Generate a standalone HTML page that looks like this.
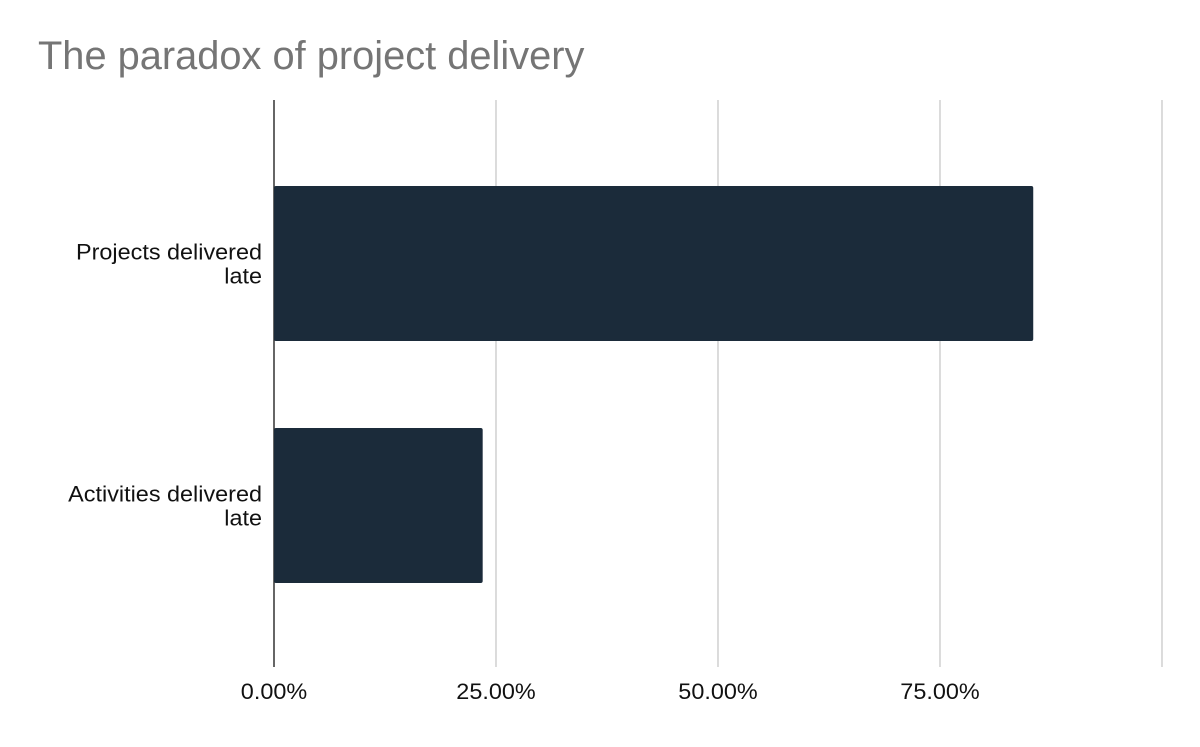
<!DOCTYPE html>
<html><head><meta charset="utf-8"><style>
body{margin:0;background:#fff;width:1200px;height:742px;overflow:hidden;font-family:"Liberation Sans",Arial,sans-serif}
</style></head><body>
<svg width="1200" height="742" id="chart">
<text x="38" y="69" font-size="39.8" fill="#757575">The paradox of project delivery</text>
<g id="grid"></g><g id="bars"></g><g id="labels"></g>
</svg>
<script>
const categories=["Projects delivered late","Activities delivered late"];
const labelLines=[["Projects delivered","late"],["Activities delivered","late"]];
const values=[85.5,23.5];
const ticks=[0,25,50,75,100];
const tickLabels=["0.00%","25.00%","50.00%","75.00%",""];
const NS="http://www.w3.org/2000/svg";
const x0=274,x1=1162,yTop=100,yBot=667;
const xs=v=>x0+(v/100)*(x1-x0);
const yc=i=>263.5+i*242;
const bh=155;
const labelScale=1.17;
function mk(t,a,p){const e=document.createElementNS(NS,t);for(const k in a)e.setAttribute(k,a[k]);p.appendChild(e);return e;}
function stretch(tx){const w=tx.getComputedTextLength();tx.setAttribute('textLength',(w*labelScale/1.1).toFixed(1));tx.setAttribute('lengthAdjust','spacingAndGlyphs');}
const g=document.getElementById('grid'),b=document.getElementById('bars'),l=document.getElementById('labels');
ticks.forEach((t,i)=>{
 if(i>0){const ln=mk('line',{x1:xs(t),x2:xs(t),y1:yTop,y2:yBot,stroke:'#c8c8c8','stroke-width':1.3},g);
 
 }
 if(tickLabels[i]){const tx=mk('text',{x:xs(t),y:699,'font-size':22,'text-anchor':'middle',fill:'#111'},l);tx.textContent=tickLabels[i];
 
 
 stretch(tx);}
});
values.forEach((v,i)=>{
 const r=mk('rect',{x:x0,y:yc(i)-bh/2,width:xs(v)-x0,height:bh,rx:2,fill:'#1b2b3a'},b);
 
 
 labelLines[i].forEach((s,j)=>{
  const tx=mk('text',{x:262,y:yc(i)-4+j*24,'font-size':22,'text-anchor':'end',fill:'#111'},l);tx.textContent=s;
  
  
  stretch(tx);
 });
});
const ax=mk('line',{x1:x0,x2:x0,y1:yTop,y2:yBot,stroke:'#333','stroke-width':1.5},g);


</script>
</body></html>
